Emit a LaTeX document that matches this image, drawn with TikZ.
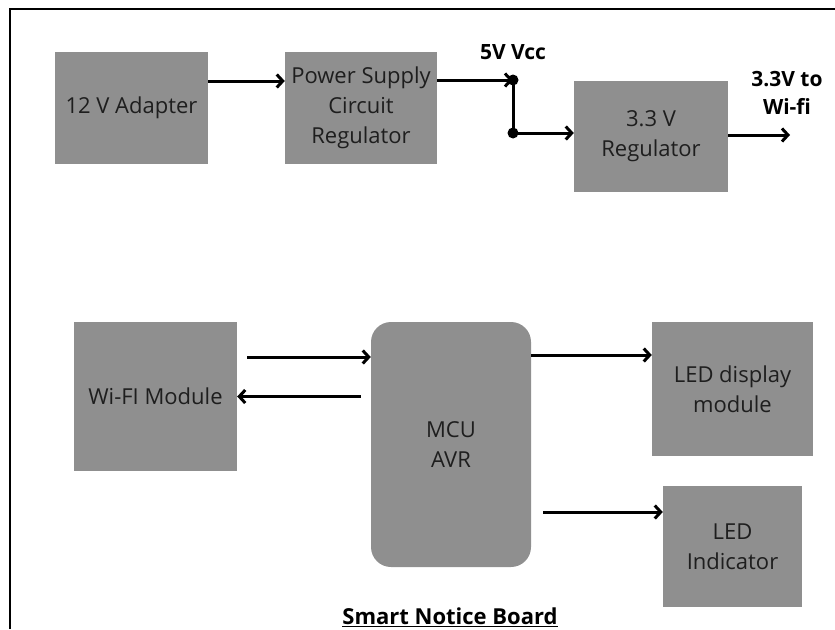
\documentclass[tikz,border=0pt]{standalone}
\usepackage{fontspec}
\setmainfont{Open Sans}
\usepackage{xcolor}
\usetikzlibrary{arrows.meta, positioning, calc}
\definecolor{boxgray}{RGB}{143, 143, 143}
\definecolor{boxtext}{RGB}{30, 30, 30}

\begin{document}
\begin{tikzpicture}[x=1pt, y=-1pt,
    blk/.style={fill=boxgray, text=boxtext, align=center, inner sep=0pt,
      font=\fontsize{22}{30}\selectfont},
    wire/.style={line width=3pt, -{Straight Barb[length=6pt, width=13pt]}},
    lbl/.style={font=\fontsize{21}{28}\selectfont\bfseries, align=center}]
    \useasboundingbox (0,0) rectangle (835,629);
    \draw[line width=2.6pt] (10,629) -- (10,9) -- (835,9);

    % blocks
    \node[blk, minimum width=153pt, minimum height=112pt] (adapter) at (131.5,108) {12 V Adapter};
    \node[blk, minimum width=152pt, minimum height=112pt] (psu) at (361,108) {Power Supply\\Circuit\\Regulator};
    \node[blk, minimum width=154pt, minimum height=111pt] (reg) at (651,136.5) {3.3 V\\Regulator};
    \node[blk, minimum width=163pt, minimum height=149pt] (wifi) at (155.5,396.5) {Wi-FI Module};
    \node[blk, minimum width=161pt, minimum height=134pt] (disp) at (732.5,389) {LED display\\module};
    \node[blk, minimum width=139pt, minimum height=121pt] (ind) at (732.5,546.5) {LED\\Indicator};
    \node[blk, rounded corners=20pt, minimum width=160pt, minimum height=245pt]
      (mcu) at (451,444.5) {MCU\\AVR};

    % power path
    \draw[wire] ([yshift=27pt]adapter.east) -- ([yshift=27pt]psu.west);
    \coordinate (vcc) at (513,80);
    \coordinate (split) at (513,133);
    \draw[wire] ([yshift=28pt]psu.east) -- (vcc);
    \draw[line width=3pt] (vcc) -- (split);
    \draw[wire] (split) -- (split -| reg.west);
    \fill (vcc) circle (5.5pt) (split) circle (5.5pt);
    \node[lbl] (vcclbl) at (513,52) {5V Vcc};
    \coordinate (wifiout) at (790,135);
    \draw[wire] (reg.east |- wifiout) -- (wifiout);
    \node[lbl] (outlbl) at (787,93) {3.3V to\\Wi-fi};

    % data path
    \coordinate (txin) at ([xshift=10pt, yshift=39.5pt]wifi.east);
    \draw[wire] (txin) -- (txin -| mcu.west);
    \draw[wire] ([xshift=-10pt]mcu.west |- wifi.east) -- (wifi.east);
    \coordinate (dispin) at ([yshift=34pt]disp.west);
    \draw[wire] (mcu.east |- dispin) -- (dispin);
    \coordinate (indin) at ([yshift=34.5pt]ind.west);
    \draw[wire] ([xshift=12pt]mcu.east |- indin) -- (indin);

    \node[font=\fontsize{22}{26}\selectfont\bfseries] (title) at (450,617)
      {\underline{Smart Notice Board}};
\end{tikzpicture}
\end{document}
